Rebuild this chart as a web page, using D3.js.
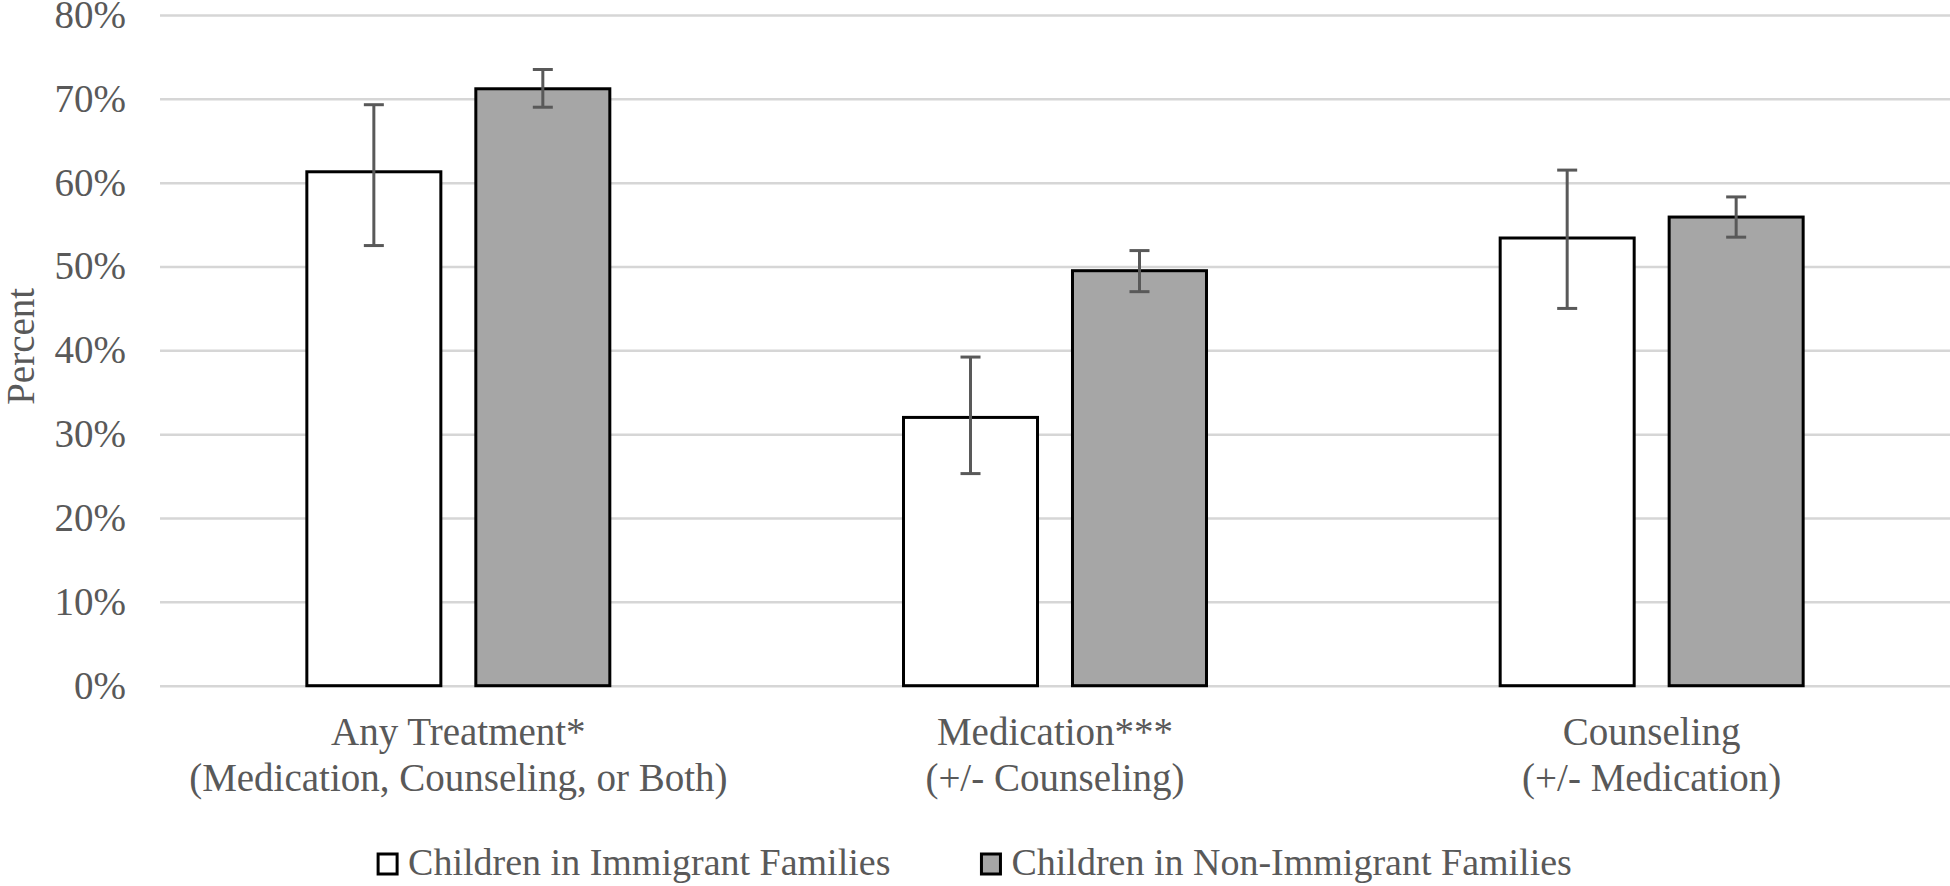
<!DOCTYPE html>
<html>
<head>
<meta charset="utf-8">
<script src="https://cdn.jsdelivr.net/npm/d3@7"></script>
<style>
  html, body { margin: 0; padding: 0; background: #ffffff; }
  svg { display: block; }
  text { font-family: "Liberation Serif", "Times New Roman", serif; fill: #595959; }
</style>
</head>
<body>
<svg id="chart" width="1950" height="886"></svg>
<script>
// ---- data ----
const categories = ["Any Treatment*", "Medication***", "Counseling"];
const categorySubtitles = ["(Medication, Counseling, or Both)", "(+/- Counseling)", "(+/- Medication)"];
const seriesNames = ["Children in Immigrant Families", "Children in Non-Immigrant Families"];
const immigrantValues = [61.3, 32.0, 53.4];
const immigrantLow = [52.5, 25.3, 45.0];
const immigrantHigh = [69.3, 39.2, 61.5];
const nonImmigrantValues = [71.2, 49.5, 55.9];
const nonImmigrantLow = [69.0, 47.0, 53.5];
const nonImmigrantHigh = [73.5, 51.9, 58.3];
const yTicks = [0, 10, 20, 30, 40, 50, 60, 70, 80];
const seriesFill = ["#ffffff", "#a6a6a6"];

// ---- layout ----
const svg = d3.select("#chart");
const W = 1950, H = 886;
const plot = { left: 160, right: 1950, top: 15, bottom: 685.7 };

const y = d3.scaleLinear().domain([0, 80]).range([plot.bottom, plot.top]);
const x0 = d3.scaleBand().domain(categories).range([plot.left, plot.right]).paddingInner(0).paddingOuter(0);
const x1 = d3.scaleBand().domain(seriesNames).range([0, x0.bandwidth()]).paddingInner(0.207).paddingOuter(0.869);

const rows = categories.map((c, i) => ({
  cat: c,
  sub: categorySubtitles[i],
  items: [
    { s: seriesNames[0], v: immigrantValues[i], lo: immigrantLow[i], hi: immigrantHigh[i], fill: seriesFill[0] },
    { s: seriesNames[1], v: nonImmigrantValues[i], lo: nonImmigrantLow[i], hi: nonImmigrantHigh[i], fill: seriesFill[1] }
  ]
}));

// gridlines + y labels via axis
const yAxis = d3.axisLeft(y).tickValues(yTicks).tickFormat(d => d + "%")
  .tickSize(-(plot.right - plot.left)).tickPadding(34);
const gy = svg.append("g").attr("transform", `translate(${plot.left},0)`).call(yAxis);
gy.select(".domain").remove();
gy.selectAll(".tick line").attr("stroke", "#d6d6d6").attr("stroke-width", 2.5);
gy.selectAll(".tick text").attr("font-size", 39).attr("dy", "0.32em")
  .attr("font-family", "Liberation Serif").attr("fill", "#595959");

// bars
const groups = svg.append("g").selectAll("g").data(rows).join("g")
  .attr("transform", d => `translate(${x0(d.cat)},0)`);

groups.selectAll("rect").data(d => d.items).join("rect")
  .attr("x", d => x1(d.s))
  .attr("y", d => y(d.v))
  .attr("width", x1.bandwidth())
  .attr("height", d => y(0) - y(d.v))
  .attr("fill", d => d.fill)
  .attr("stroke", "#000")
  .attr("stroke-width", 3);

// error bars
const eb = groups.selectAll("g.err").data(d => d.items).join("g").attr("class", "err")
  .attr("stroke", "#595959").attr("stroke-width", 3);
eb.append("line")
  .attr("x1", d => x1(d.s) + x1.bandwidth() / 2).attr("x2", d => x1(d.s) + x1.bandwidth() / 2)
  .attr("y1", d => y(d.lo)).attr("y2", d => y(d.hi));
eb.append("line")
  .attr("x1", d => x1(d.s) + x1.bandwidth() / 2 - 10).attr("x2", d => x1(d.s) + x1.bandwidth() / 2 + 10)
  .attr("y1", d => y(d.lo)).attr("y2", d => y(d.lo));
eb.append("line")
  .attr("x1", d => x1(d.s) + x1.bandwidth() / 2 - 10).attr("x2", d => x1(d.s) + x1.bandwidth() / 2 + 10)
  .attr("y1", d => y(d.hi)).attr("y2", d => y(d.hi));

// category labels
const catLab = svg.append("g").selectAll("text").data(rows).join("text")
  .attr("text-anchor", "middle")
  .attr("font-size", 39)
  .attr("x", d => x0(d.cat) + x0.bandwidth() / 2)
  .attr("y", 745);
catLab.append("tspan").text(d => d.cat);
catLab.append("tspan").attr("x", d => x0(d.cat) + x0.bandwidth() / 2).attr("y", 791).text(d => d.sub);

// y axis title
svg.append("text")
  .attr("transform", `translate(34,${(plot.top + plot.bottom) / 2 - 4}) rotate(-90)`)
  .attr("text-anchor", "middle")
  .attr("font-size", 39)
  .text("Percent");

// legend
const legend = svg.append("g");
const items = legend.selectAll("g").data(seriesNames).join("g");
items.append("rect").attr("width", 19).attr("height", 20)
  .attr("fill", (d, i) => seriesFill[i]).attr("stroke", "#000").attr("stroke-width", 3);
items.append("text").attr("x", 30).attr("y", 20.5).attr("font-size", 38).text(d => d);
const widths = [];
items.each(function () { widths.push(this.getBBox().width); });
const gap = 91;
const total = widths.reduce((a, b) => a + b, 0) + gap * (widths.length - 1);
let cx = W / 2 - total / 2;
items.attr("transform", (d, i) => {
  const t = `translate(${cx},854)`;
  cx += widths[i] + gap;
  return t;
});
</script>
</body>
</html>
